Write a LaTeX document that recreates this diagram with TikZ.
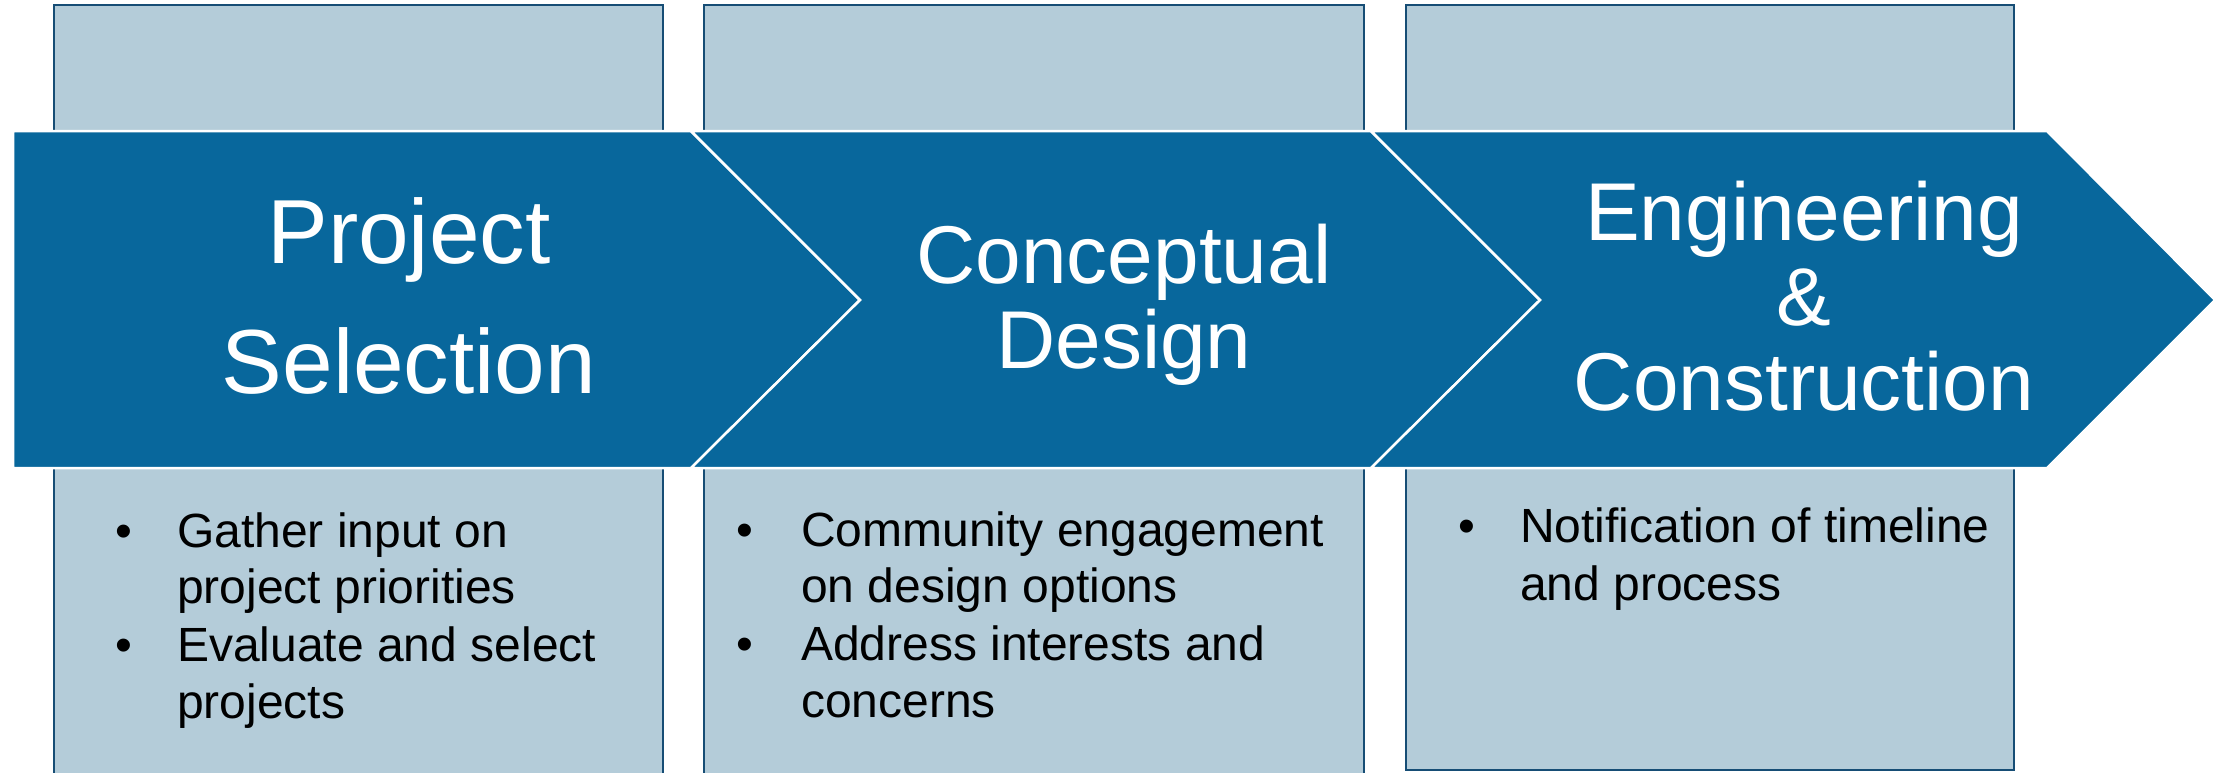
\documentclass[tikz,border=0pt]{standalone}
\usepackage{fontspec}
\setmainfont{Liberation Sans}
\definecolor{bandblue}{RGB}{8,103,156}
\definecolor{boxfill}{RGB}{180,204,217}
\definecolor{boxline}{RGB}{22,77,117}
\begin{document}
\begin{tikzpicture}[x=1pt,y=-1pt,
  sidebox/.style={fill=boxfill,draw=boxline,line width=2.2pt},
  chev/.style={fill=bandblue,draw=white,line width=2.5pt,line join=miter},
  titleA/.style={text=white,inner sep=0pt,font=\fontsize{91}{100}\selectfont,anchor=base},
  titleB/.style={text=white,inner sep=0pt,font=\fontsize{82}{95}\selectfont,anchor=base},
  bul/.style={text=black,inner sep=0pt,font=\fontsize{48}{57}\selectfont,anchor=base},
  btxt/.style={text=black,inner sep=0pt,font=\fontsize{48}{57}\selectfont,anchor=base west}]
\useasboundingbox (0,0) rectangle (2221,772);
\clip (0,0) rectangle (2221,772);
% side boxes
\draw[sidebox] (54,5) rectangle (663,790);
\draw[sidebox] (704,5) rectangle (1364,790);
\draw[sidebox] (1406,5) rectangle (2014,770);
% chevron band
\draw[chev] (13,131) -- (691,131) -- (860,300) -- (691,468) -- (13,468) -- cycle;
\draw[chev] (691,131) -- (1371,131) -- (1540,300) -- (1371,468) -- (691,468) -- (860,300) -- cycle;
\draw[chev] (1371,131) -- (2047,131) -- (2215,300) -- (2047,468) -- (1371,468) -- (1540,300) -- cycle;
% titles
\node[titleA] (t1a) at (409,263) {Project};
\node[titleA] (t1b) at (409,393) {Selection};
\node[titleB] (t2a) at (1124,283) {Conceptual};
\node[titleB] (t2b) at (1124,368) {Design};
\node[titleB] (t3a) at (1804,240) {Engineering};
\node[titleB] (t3b) at (1804,325) {\&};
\node[titleB] (t3c) at (1804,410) {Construction};
% box 1 bullets
\node[bul] (b1a) at (124,547) {•};
\node[btxt] (l1a) at (177,547) {Gather input on};
\node[btxt] (l1b) at (177,603) {project priorities};
\node[bul] (b1b) at (124,661) {•};
\node[btxt] (l1c) at (177,661) {Evaluate and select};
\node[btxt] (l1d) at (177,718) {projects};
% box 2 bullets
\node[bul] (b2a) at (745,546) {•};
\node[btxt] (l2a) at (801,546) {Community engagement};
\node[btxt] (l2b) at (801,602) {on design options};
\node[bul] (b2b) at (745,660) {•};
\node[btxt] (l2c) at (801,660) {Address interests and};
\node[btxt] (l2d) at (801,717) {concerns};
% box 3 bullets
\node[bul] (b3a) at (1467,542) {•};
\node[btxt] (l3a) at (1520,542) {Notification of timeline};
\node[btxt] (l3b) at (1520,600) {and process};
\end{tikzpicture}
\end{document}
